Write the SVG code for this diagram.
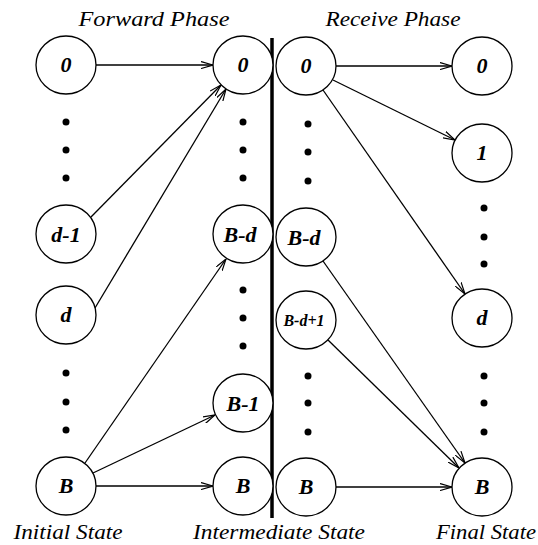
<svg xmlns="http://www.w3.org/2000/svg" width="538" height="545" viewBox="0 0 538 545">
<style>
.n{fill:#fff;stroke:#000;stroke-width:1.3}
.t{font-family:"Liberation Serif",serif;font-style:italic;font-weight:bold;font-size:22px;text-anchor:middle}
.s{font-size:16px}
.h{font-family:"Liberation Serif",serif;font-style:italic;font-size:22px;text-anchor:middle}
.e{stroke:#000;stroke-width:1.3;fill:none;marker-end:url(#a)}
.d{fill:#000}
</style>
<defs>
<marker id="a" viewBox="0 0 12 8" refX="12" refY="4" markerWidth="12" markerHeight="8" markerUnits="userSpaceOnUse" orient="auto">
<path d="M0,0.5 L12,4 L0,7.5" fill="none" stroke="#000" stroke-width="1.2"/>
</marker>
</defs>
<rect width="538" height="545" fill="#fff"/>
<text class="h" x="154" y="26" textLength="151" lengthAdjust="spacingAndGlyphs">Forward  Phase</text>
<text class="h" x="393" y="26" textLength="135" lengthAdjust="spacingAndGlyphs">Receive Phase</text>
<text class="h" x="68" y="539" textLength="109" lengthAdjust="spacingAndGlyphs">Initial State</text>
<text class="h" x="279" y="539" textLength="172" lengthAdjust="spacingAndGlyphs">Intermediate State</text>
<text class="h" x="486" y="539" textLength="100" lengthAdjust="spacingAndGlyphs">Final State</text>
<line x1="272" y1="38" x2="272" y2="518" stroke="#000" stroke-width="3.5"/>
<g id="connectors">
<line class="e" x1="96" y1="65" x2="213" y2="65"/>
<line class="e" x1="91" y1="217" x2="221" y2="85"/>
<line class="e" x1="95" y1="308" x2="226" y2="89"/>
<line class="e" x1="85" y1="463" x2="226" y2="259"/>
<line class="e" x1="93" y1="473" x2="215" y2="415"/>
<line class="e" x1="96" y1="486" x2="213" y2="486"/>
<line class="e" x1="336" y1="66" x2="452" y2="66"/>
<line class="e" x1="333" y1="80" x2="455" y2="140"/>
<line class="e" x1="323" y1="90" x2="465" y2="294"/>
<line class="e" x1="323" y1="261" x2="465" y2="463"/>
<line class="e" x1="328" y1="340" x2="459" y2="468"/>
<line class="e" x1="336" y1="487" x2="452" y2="487"/>
</g>
<g id="dots">
<circle class="d" cx="66" cy="122" r="3.5"/><circle class="d" cx="66" cy="150" r="3.5"/><circle class="d" cx="66" cy="178" r="3.5"/>
<circle class="d" cx="66" cy="373" r="3.5"/><circle class="d" cx="66" cy="402" r="3.5"/><circle class="d" cx="66" cy="430" r="3.5"/>
<circle class="d" cx="243" cy="122" r="3.5"/><circle class="d" cx="243" cy="150" r="3.5"/><circle class="d" cx="243" cy="178" r="3.5"/>
<circle class="d" cx="243" cy="290" r="3.5"/><circle class="d" cx="243" cy="318" r="3.5"/><circle class="d" cx="243" cy="346" r="3.5"/>
<circle class="d" cx="308" cy="124" r="3.5"/><circle class="d" cx="308" cy="152" r="3.5"/><circle class="d" cx="308" cy="181" r="3.5"/>
<circle class="d" cx="308" cy="376" r="3.5"/><circle class="d" cx="308" cy="403" r="3.5"/><circle class="d" cx="308" cy="432" r="3.5"/>
<circle class="d" cx="484" cy="208" r="3.5"/><circle class="d" cx="484" cy="237" r="3.5"/><circle class="d" cx="484" cy="264" r="3.5"/>
<circle class="d" cx="484" cy="376" r="3.5"/><circle class="d" cx="484" cy="403" r="3.5"/><circle class="d" cx="484" cy="432" r="3.5"/>
</g>
<g id="i0"><ellipse class="n" cx="66" cy="65" rx="30" ry="29"/><text class="t" x="66" y="72">0</text></g>
<g id="id1"><ellipse class="n" cx="66" cy="234" rx="30" ry="29"/><text class="t" x="66" y="242">d-1</text></g>
<g id="id"><ellipse class="n" cx="66" cy="315" rx="30" ry="29"/><text class="t" x="66" y="322">d</text></g>
<g id="iB"><ellipse class="n" cx="66" cy="486" rx="30" ry="29"/><text class="t" x="66" y="493">B</text></g>
<g id="m0"><ellipse class="n" cx="243" cy="65" rx="30" ry="29"/><text class="t" x="243" y="72">0</text></g>
<g id="mBd"><ellipse class="n" cx="243" cy="234" rx="30" ry="29"/><text class="t" x="240" y="242">B-d</text></g>
<g id="mB1"><ellipse class="n" cx="243" cy="403" rx="30" ry="29"/><text class="t" x="243" y="411">B-1</text></g>
<g id="mB"><ellipse class="n" cx="243" cy="486" rx="30" ry="29"/><text class="t" x="243" y="493">B</text></g>
<g id="r0"><ellipse class="n" cx="306" cy="66" rx="30" ry="29"/><text class="t" x="306" y="73">0</text></g>
<g id="rBd"><ellipse class="n" cx="306" cy="237" rx="30" ry="29"/><text class="t" x="304" y="245">B-d</text></g>
<g id="rBd1"><ellipse class="n" cx="306" cy="320" rx="30" ry="29"/><text class="t s" x="304" y="326">B-d+1</text></g>
<g id="rB"><ellipse class="n" cx="306" cy="487" rx="30" ry="29"/><text class="t" x="306" y="494">B</text></g>
<g id="f0"><ellipse class="n" cx="482" cy="66" rx="30" ry="29"/><text class="t" x="482" y="73">0</text></g>
<g id="f1"><ellipse class="n" cx="482" cy="153" rx="30" ry="29"/><text class="t" x="482" y="160">1</text></g>
<g id="fd"><ellipse class="n" cx="482" cy="318" rx="30" ry="29"/><text class="t" x="482" y="325">d</text></g>
<g id="fB"><ellipse class="n" cx="482" cy="487" rx="30" ry="29"/><text class="t" x="482" y="494">B</text></g>
</svg>
